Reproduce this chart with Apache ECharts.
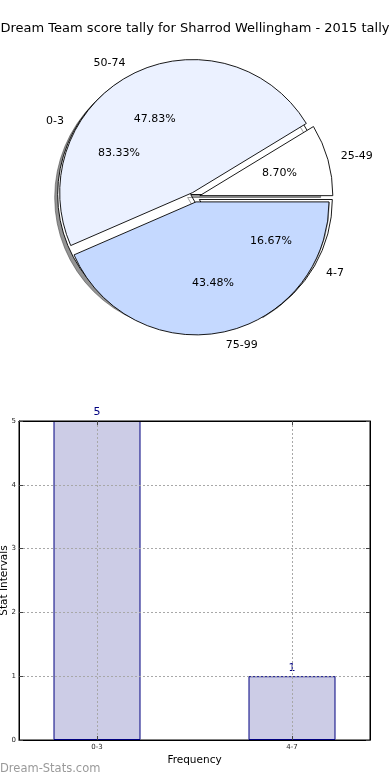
<!DOCTYPE html>
<html><head><meta charset="utf-8">
<script src="https://cdn.jsdelivr.net/npm/echarts@6/dist/echarts.min.js"></script>
<style>html,body{margin:0;padding:0;background:#fff}#c{width:390px;height:780px}</style>
</head><body><div id="c"></div>
<script>
const chartTitle = 'Dream Team score tally for Sharrod Wellingham - 2015 tally';
const scoreNames = ['25-49', '50-74', '75-99'];
const scoreCounts = [2, 11, 10];
const scoreColors = ['#ffffff', '#ebf1ff', '#c5d9ff'];
const statNames = ['0-3', '4-7'];
const statCounts = [5, 1];
const statColors = ['#ffffff', '#ffffff'];
const barCategories = ['0-3', '4-7'];
const barValues = [5, 1];
const xTickPositions = [0, 1];

const FF = 'DejaVu Sans';
const R = 133;
const C = [195, 197];

function pieData(names, vals, colors) {
  return names.map((n, i) => ({ name: n, value: vals[i], selected: true, itemStyle: { color: colors[i] } }));
}
function overlayData(names, vals) {
  return names.map((n, i) => ({ name: n, value: vals[i], selected: true }));
}
const sumOf = arr => arr.reduce((a, b) => a + b, 0);
const pctFmt = vals => p => (p.value / sumOf(vals) * 100).toFixed(2) + '%';

function basePie(z) {
  return {
    type: 'pie', z: z, center: C, startAngle: 0, clockwise: false,
    selectedMode: 'multiple', selectedOffset: 5, avoidLabelOverlap: false,
    silent: true, animation: false, emphasis: { disabled: true }
  };
}

const dotted = { color: '#a8a8a8', width: 1, type: [2, 2] };
const axLine = { show: true, onZero: false, lineStyle: { color: '#000', width: 1 } };

const option = {
  animation: false,
  backgroundColor: '#fff',
  title: [
    { text: chartTitle, left: 'center', top: 22, padding: 0,
      textStyle: { fontFamily: FF, fontSize: 13, fontWeight: 'normal', color: '#000' } },
    { text: 'Dream-Stats.com', left: 0, top: 763, padding: 0,
      textStyle: { fontFamily: FF, fontSize: 11.5, fontWeight: 'normal', color: '#9a9a9a' } }
  ],
  grid: { left: 19, right: 20, top: 421, bottom: 40, show: true, borderColor: '#000', borderWidth: 1,
          backgroundColor: 'transparent', outerBoundsMode: 'none', containLabel: false },
  xAxis: [
    { type: 'value', min: -0.4, max: 1.4, position: 'bottom', z: 3,
      name: 'Frequency', nameLocation: 'middle', nameGap: 15, nameMoveOverlap: false,
      nameTextStyle: { fontFamily: FF, fontSize: 10.5, color: '#000' },
      axisLine: axLine,
      axisTick: { show: true, inside: true, length: 4, customValues: xTickPositions, lineStyle: { color: '#444' } },
      axisLabel: { customValues: xTickPositions, formatter: v => barCategories[Math.round(v)], fontFamily: FF, fontSize: 7, color: '#222', margin: 4 },
      splitLine: { show: true, lineStyle: dotted } },
    { type: 'value', min: -0.4, max: 1.4, position: 'top', z: 3,
      axisLine: axLine,
      axisTick: { show: true, inside: true, length: 4, customValues: xTickPositions, lineStyle: { color: '#444' } },
      axisLabel: { show: false }, splitLine: { show: false } }
  ],
  yAxis: [
    { type: 'value', min: 0, max: 5, interval: 1, position: 'left', z: 3,
      name: 'Stat Intervals', nameLocation: 'middle', nameGap: 9, nameMoveOverlap: false,
      nameTextStyle: { fontFamily: FF, fontSize: 10.5, color: '#000' },
      axisLine: axLine,
      axisTick: { show: true, inside: true, length: 4, lineStyle: { color: '#444' } },
      axisLabel: { fontFamily: FF, fontSize: 7, color: '#222', margin: 3 },
      splitLine: { show: true, lineStyle: dotted } },
    { type: 'value', min: 0, max: 5, interval: 1, position: 'right', z: 3,
      axisLine: axLine,
      axisTick: { show: true, inside: true, length: 4, lineStyle: { color: '#444' } },
      axisLabel: { show: false }, splitLine: { show: false } }
  ],
  series: [
    Object.assign(basePie(1), {
      radius: [0, R],
      itemStyle: { borderColor: '#000', borderWidth: 0.9, shadowColor: 'rgba(60,60,60,0.55)', shadowOffsetX: -3, shadowOffsetY: 3, shadowBlur: 0 },
      label: { show: true, position: 'outside', formatter: '{b}', fontFamily: FF, fontSize: 11, color: '#000', distanceToLabelLine: 0 },
      labelLine: { show: false, length: R * 0.1, length2: 0 },
      data: pieData(statNames, statCounts, statColors)
    }),
    Object.assign(basePie(2), {
      radius: [0, R],
      itemStyle: { borderColor: '#000', borderWidth: 0.9 },
      label: { show: true, position: 'outside', formatter: '{b}', fontFamily: FF, fontSize: 11, color: '#000', distanceToLabelLine: 0 },
      labelLine: { show: false, length: R * 0.1, length2: 0 },
      data: pieData(scoreNames, scoreCounts, scoreColors)
    }),
    Object.assign(basePie(3), {
      radius: [R * 0.2, R],
      itemStyle: { color: 'rgba(0,0,0,0)', borderWidth: 0 },
      label: { show: true, position: 'inside', formatter: pctFmt(statCounts), fontFamily: FF, fontSize: 11, color: '#000' },
      labelLine: { show: false },
      data: overlayData(statNames, statCounts)
    }),
    Object.assign(basePie(3), {
      radius: [R * 0.2, R],
      itemStyle: { color: 'rgba(0,0,0,0)', borderWidth: 0 },
      label: { show: true, position: 'inside', formatter: pctFmt(scoreCounts), fontFamily: FF, fontSize: 11, color: '#000' },
      labelLine: { show: false },
      data: overlayData(scoreNames, scoreCounts)
    }),
    {
      type: 'bar', xAxisIndex: 0, yAxisIndex: 0, z: 1, barWidth: 87, silent: true,
      data: barCategories.map((c, i) => [i, barValues[i]]),
      itemStyle: { color: '#ccccE6', borderColor: '#000080', borderWidth: 1 },
      label: { show: true, position: 'top', distance: 3, formatter: p => p.value[1], fontFamily: FF, fontSize: 11, color: '#000080' }
    }
  ]
};
const chart = echarts.init(document.getElementById('c'), null, { renderer: 'canvas' });
chart.setOption(option);
</script></body></html>
